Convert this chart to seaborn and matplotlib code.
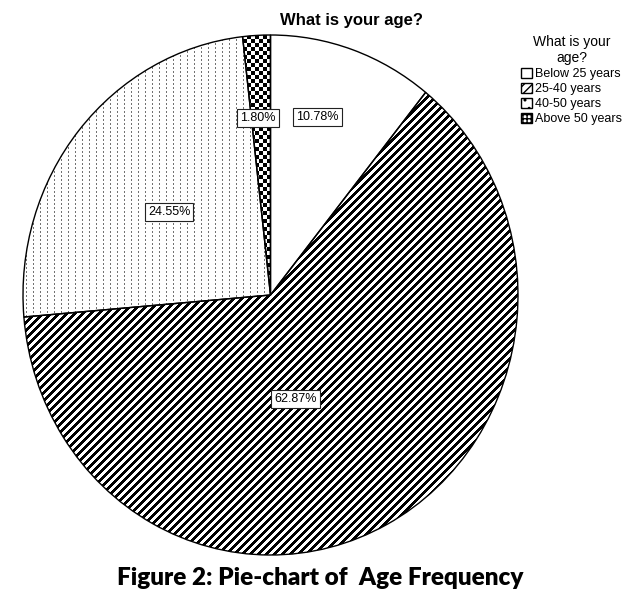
import numpy as np
import matplotlib
matplotlib.use("Agg")
import matplotlib.pyplot as plt
import seaborn as sns
from matplotlib.patches import Patch

# data
groups = ["Below 25 years", "25-40 years", "40-50 years", "Above 50 years"]
shares = [10.78, 62.87, 24.55, 1.80]
# where SPSS put the % boxes (fractions of the radius)
label_offsets = [(0.19, 0.685), (0.10, -0.40), (-0.41, 0.32), (-0.05, 0.68)]

sns.set_theme(style="white")
plt.rcParams["font.family"] = ["Liberation Sans", "DejaVu Sans"]
plt.rcParams["text.color"] = "black"

W, H = 634, 604
fig = plt.figure(figsize=(W / 100, H / 100), dpi=100)
ax_w, ax_h = 495, 520
ax = fig.add_axes([23 / W, 49 / H, ax_w / W, ax_h / H])

wedges, _, pct = ax.pie(
    shares, startangle=90, counterclock=False, radius=1,
    autopct="%.2f%%", colors=["white"] * len(shares),
    wedgeprops=dict(edgecolor="black", linewidth=1.0),
    textprops=dict(fontsize=9, color="black", zorder=5),
)

# fill patterns, SPSS style (pixel sized, clipped to the wedges)
rows, cols = np.mgrid[0:ax_h, 0:ax_w]
def pattern(mask, color):
    img = np.ones((ax_h, ax_w, 3))
    img[mask] = color
    return img

fills = {
    1: pattern(((rows + cols) // 4) % 2 == 0, (0, 0, 0)),
    2: pattern((cols % 7 == 3) & (rows % 4 < 2), (0.45, 0.45, 0.45)),
    3: pattern(((rows // 4) + (cols // 4)) % 2 == 0, (0, 0, 0)),
}
for i, img in fills.items():
    wedges[i].set_facecolor("none")
    im = ax.imshow(img, extent=(-1, 1, -1, 1), interpolation="nearest",
                   aspect="auto", zorder=0.9)
    im.set_clip_path(wedges[i])

ax.set_aspect("auto")
ax.set_xlim(-1, 1)
ax.set_ylim(-1, 1)
ax.axis("off")

for t, (dx, dy) in zip(pct, label_offsets):
    t.set_position((dx, dy))
    t.set_bbox(dict(facecolor="white", edgecolor="#222222", linewidth=0.8,
                    boxstyle="square,pad=0.25"))

fig.text(352 / W, 1 - 20 / H, "What is your age?", fontsize=12,
         fontweight="bold", ha="center", va="center")

hatches = ["", "////", "..", "++++"]
handles = [Patch(facecolor="white", edgecolor="black", hatch=h, label=g)
           for g, h in zip(groups, hatches)]
leg = fig.legend(handles=handles, title="What is your\nage?", loc="upper left",
                 bbox_to_anchor=(521 / W, 1 - 35 / H), frameon=False,
                 fontsize=9, title_fontsize=10, handlelength=0.9,
                 handleheight=0.9, handletextpad=0.25, labelspacing=0.2,
                 borderaxespad=0, borderpad=0)
leg.get_title().set_multialignment("center")

fig.text(320 / W, 1 - 578 / H, "Figure 2: Pie-chart of  Age Frequency",
         fontsize=17.5, fontweight="heavy", family=["Lato", "DejaVu Sans"],
         ha="center", va="center")

fig.savefig("out.png", dpi=100, facecolor="white")
